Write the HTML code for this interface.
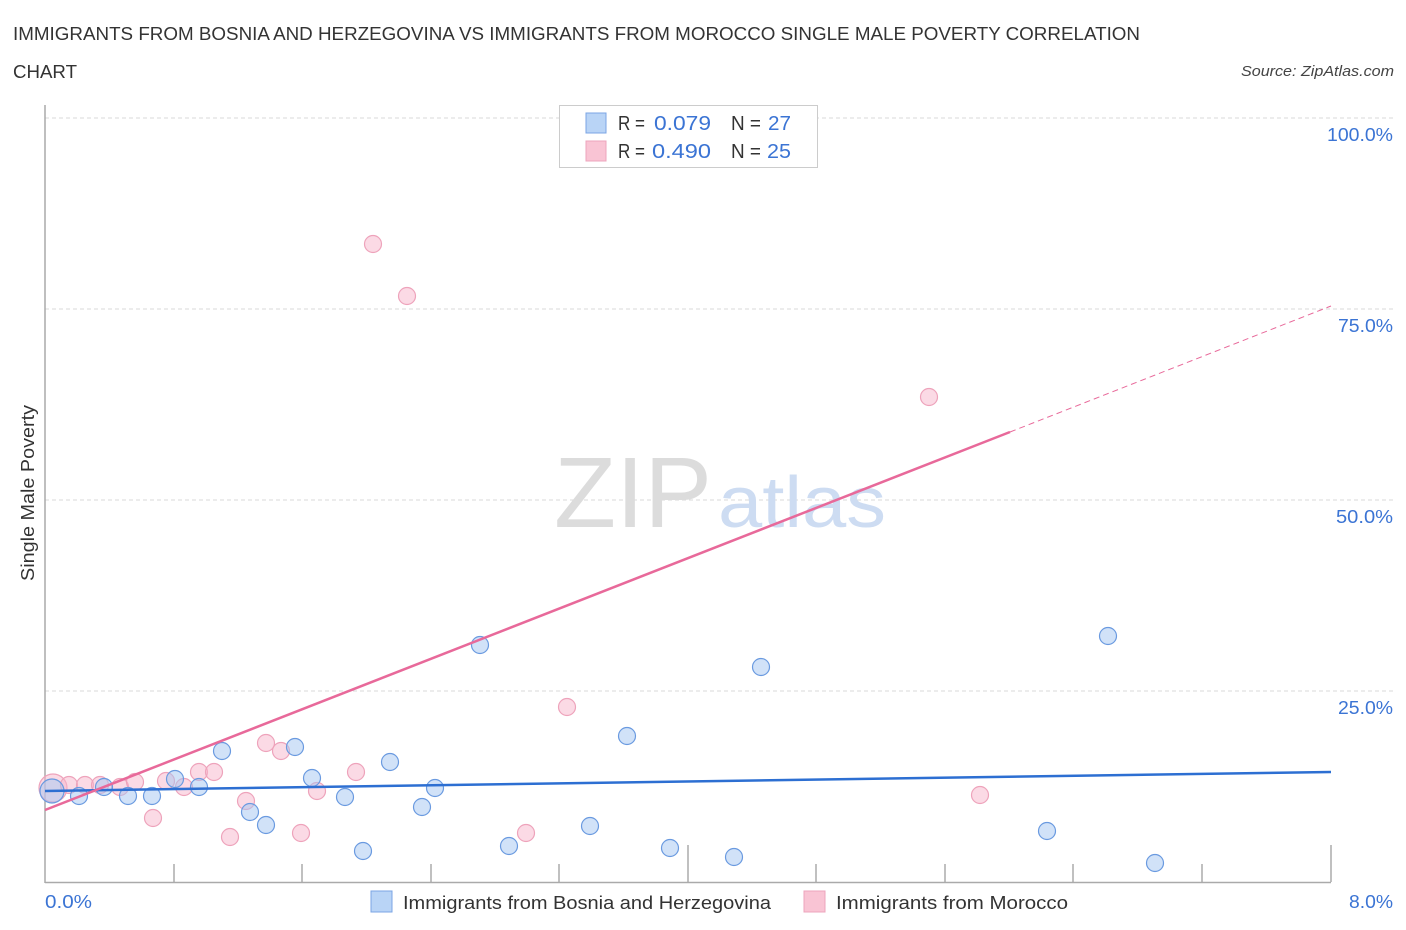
<!DOCTYPE html>
<html><head><meta charset="utf-8"><style>
html,body{margin:0;padding:0;background:#fff;}
svg{display:block;}
text{font-family:"Liberation Sans",sans-serif;}
</style></head><body>
<svg width="1406" height="930" viewBox="0 0 1406 930" xmlns="http://www.w3.org/2000/svg">
<text x="13" y="40" font-size="18" fill="#333" textLength="1127" lengthAdjust="spacingAndGlyphs">IMMIGRANTS FROM BOSNIA AND HERZEGOVINA VS IMMIGRANTS FROM MOROCCO SINGLE MALE POVERTY CORRELATION</text>
<text x="13" y="78" font-size="18" fill="#333" textLength="64" lengthAdjust="spacingAndGlyphs">CHART</text>
<text x="1394" y="76" font-size="15" fill="#444" font-style="italic" text-anchor="end" textLength="153" lengthAdjust="spacingAndGlyphs">Source: ZipAtlas.com</text>

<!-- gridlines -->
<g stroke="#d8d8d8" stroke-width="1" stroke-dasharray="4,3">
<line x1="45" y1="118" x2="1393" y2="118"/>
<line x1="45" y1="309" x2="1393" y2="309"/>
<line x1="45" y1="500" x2="1393" y2="500"/>
<line x1="45" y1="691" x2="1393" y2="691"/>
</g>

<!-- watermark -->
<text x="554" y="527" font-family="Liberation Serif,serif" font-size="100" fill="#dcdcdc" textLength="158" lengthAdjust="spacingAndGlyphs">ZIP</text>
<text x="718" y="527" font-size="72" fill="#cddcf2" textLength="168" lengthAdjust="spacingAndGlyphs">atlas</text>

<!-- axes -->
<line x1="45" y1="105" x2="45" y2="883" stroke="#aaa" stroke-width="1.5"/>
<line x1="45" y1="882.5" x2="1331" y2="882.5" stroke="#aaa" stroke-width="1.5"/>
<g stroke="#aaa" stroke-width="1.5">
<line x1="174" y1="864" x2="174" y2="882"/>
<line x1="302" y1="864" x2="302" y2="882"/>
<line x1="431" y1="864" x2="431" y2="882"/>
<line x1="559" y1="864" x2="559" y2="882"/>
<line x1="688" y1="845" x2="688" y2="882"/>
<line x1="816" y1="864" x2="816" y2="882"/>
<line x1="945" y1="864" x2="945" y2="882"/>
<line x1="1073" y1="864" x2="1073" y2="882"/>
<line x1="1202" y1="864" x2="1202" y2="882"/>
<line x1="1331" y1="845" x2="1331" y2="882"/>
</g>

<!-- y labels -->
<g font-size="18" fill="#3b74d4" text-anchor="end">
<text x="1393" y="141" textLength="66" lengthAdjust="spacingAndGlyphs">100.0%</text>
<text x="1393" y="332" textLength="55" lengthAdjust="spacingAndGlyphs">75.0%</text>
<text x="1393" y="523" textLength="57" lengthAdjust="spacingAndGlyphs">50.0%</text>
<text x="1393" y="714" textLength="55" lengthAdjust="spacingAndGlyphs">25.0%</text>
<text x="1393" y="908" textLength="44" lengthAdjust="spacingAndGlyphs">8.0%</text>
</g>
<text x="45" y="908" font-size="18" fill="#3b74d4" textLength="47" lengthAdjust="spacingAndGlyphs">0.0%</text>
<text transform="translate(34,493) rotate(-90)" font-size="18" fill="#333" text-anchor="middle" textLength="176" lengthAdjust="spacingAndGlyphs">Single Male Poverty</text>

<!-- pink points -->
<g fill="rgba(248,182,204,0.5)" stroke="#eea3bb" stroke-width="1.2">
<circle cx="53" cy="788" r="14"/>
<circle cx="69" cy="785" r="8.5"/>
<circle cx="85" cy="785" r="8.5"/>
<circle cx="100" cy="785" r="8.5"/>
<circle cx="120" cy="787" r="8.5"/>
<circle cx="135" cy="782" r="8.5"/>
<circle cx="153" cy="818" r="8.5"/>
<circle cx="166" cy="781" r="8.5"/>
<circle cx="184" cy="787" r="8.5"/>
<circle cx="199" cy="772" r="8.5"/>
<circle cx="214" cy="772" r="8.5"/>
<circle cx="230" cy="837" r="8.5"/>
<circle cx="246" cy="801" r="8.5"/>
<circle cx="266" cy="743" r="8.5"/>
<circle cx="281" cy="751" r="8.5"/>
<circle cx="301" cy="833" r="8.5"/>
<circle cx="317" cy="791" r="8.5"/>
<circle cx="356" cy="772" r="8.5"/>
<circle cx="526" cy="833" r="8.5"/>
<circle cx="567" cy="707" r="8.5"/>
<circle cx="980" cy="795" r="8.5"/>
<circle cx="929" cy="397" r="8.5"/>
<circle cx="373" cy="244" r="8.5"/>
<circle cx="407" cy="296" r="8.5"/>
<circle cx="737" cy="117" r="8.5"/>
</g>

<!-- blue points -->
<g fill="rgba(164,198,242,0.5)" stroke="#6a9ae0" stroke-width="1.2">
<circle cx="52" cy="791" r="12"/>
<circle cx="79" cy="796" r="8.5"/>
<circle cx="104" cy="787" r="8.5"/>
<circle cx="128" cy="796" r="8.5"/>
<circle cx="152" cy="796" r="8.5"/>
<circle cx="175" cy="779" r="8.5"/>
<circle cx="199" cy="787" r="8.5"/>
<circle cx="222" cy="751" r="8.5"/>
<circle cx="250" cy="812" r="8.5"/>
<circle cx="266" cy="825" r="8.5"/>
<circle cx="295" cy="747" r="8.5"/>
<circle cx="312" cy="778" r="8.5"/>
<circle cx="345" cy="797" r="8.5"/>
<circle cx="363" cy="851" r="8.5"/>
<circle cx="390" cy="762" r="8.5"/>
<circle cx="422" cy="807" r="8.5"/>
<circle cx="435" cy="788" r="8.5"/>
<circle cx="480" cy="645" r="8.5"/>
<circle cx="509" cy="846" r="8.5"/>
<circle cx="590" cy="826" r="8.5"/>
<circle cx="627" cy="736" r="8.5"/>
<circle cx="670" cy="848" r="8.5"/>
<circle cx="734" cy="857" r="8.5"/>
<circle cx="761" cy="667" r="8.5"/>
<circle cx="1047" cy="831" r="8.5"/>
<circle cx="1108" cy="636" r="8.5"/>
<circle cx="1155" cy="863" r="8.5"/>
</g>

<!-- trend lines -->
<line x1="45" y1="791" x2="1331" y2="772" stroke="#2d6fd2" stroke-width="2.5"/>
<line x1="45" y1="810" x2="1010" y2="432" stroke="#e8699a" stroke-width="2.5"/>
<line x1="1010" y1="432" x2="1331" y2="306" stroke="#e8699a" stroke-width="1" stroke-dasharray="6,4"/>

<!-- legend box -->
<rect x="559.5" y="105.5" width="258" height="62" fill="#fff" stroke="#ccc" stroke-width="1"/>
<rect x="586" y="113" width="20" height="20" fill="#b9d4f6" stroke="#7ba5e4" stroke-width="1"/>
<rect x="586" y="141" width="20" height="20" fill="#f9c4d4" stroke="#eda4bc" stroke-width="1"/>
<g font-size="20">
<text x="618" y="130" fill="#333" textLength="27" lengthAdjust="spacingAndGlyphs">R =</text>
<text x="654" y="130" fill="#3b74d4" textLength="57" lengthAdjust="spacingAndGlyphs">0.079</text>
<text x="731" y="130" fill="#333" textLength="30" lengthAdjust="spacingAndGlyphs">N =</text>
<text x="768" y="130" fill="#3b74d4" textLength="23" lengthAdjust="spacingAndGlyphs">27</text>
<text x="618" y="158" fill="#333" textLength="27" lengthAdjust="spacingAndGlyphs">R =</text>
<text x="652" y="158" fill="#3b74d4" textLength="59" lengthAdjust="spacingAndGlyphs">0.490</text>
<text x="731" y="158" fill="#333" textLength="30" lengthAdjust="spacingAndGlyphs">N =</text>
<text x="767" y="158" fill="#3b74d4" textLength="24" lengthAdjust="spacingAndGlyphs">25</text>
</g>

<!-- bottom legend -->
<rect x="371" y="891" width="21" height="21" fill="#b9d4f6" stroke="#7ba5e4" stroke-width="1"/>
<text x="403" y="909" font-size="18" fill="#333" textLength="368" lengthAdjust="spacingAndGlyphs">Immigrants from Bosnia and Herzegovina</text>
<rect x="804" y="891" width="21" height="21" fill="#f9c4d4" stroke="#eda4bc" stroke-width="1"/>
<text x="836" y="909" font-size="18" fill="#333" textLength="232" lengthAdjust="spacingAndGlyphs">Immigrants from Morocco</text>
</svg>
</body></html>
